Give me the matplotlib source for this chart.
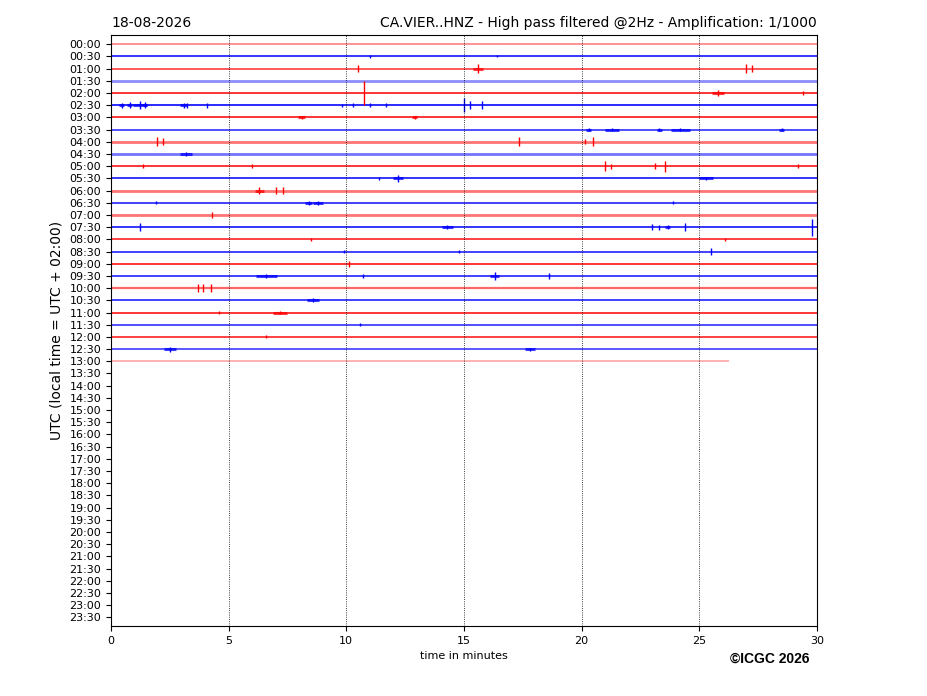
import matplotlib
matplotlib.use("Agg")
import matplotlib.pyplot as plt

### Helicorder layout: one row every 30 minutes
row_labels = ["%02d:%02d" % (h, m) for h in range(24) for m in (0, 30)]
n_rows_with_data = 27
last_row_end = 26.2          # minutes recorded in the 13:00 row

### Row display (visual density of the noisy trace)
row_alpha = [0.5, 0.85, 0.7, 0.45, 0.85, 0.9, 0.85, 0.75, 0.55, 0.55,
             0.85, 0.85, 0.55, 0.8, 0.55, 0.85, 0.8, 0.8, 0.85, 0.8,
             0.6, 0.8, 0.85, 0.75, 0.8, 0.7, 0.3]
row_width = [1.2, 1.3, 1.3, 2.0, 1.3, 1.3, 1.3, 1.3, 2.0, 2.0,
             1.3, 1.3, 2.0, 1.3, 2.0, 1.3, 1.3, 1.3, 1.3, 1.3,
             1.6, 1.3, 1.3, 1.3, 1.3, 1.3, 1.4]

### Events: row index, minute, half amplitude (rows), duration (minutes)
event_row = [1, 1,
             2, 2, 2, 2,
             4, 4, 4,
             5, 5, 5, 5, 5, 5, 5, 5, 5, 5, 5, 5, 5, 5,
             6, 6,
             7, 7, 7, 7, 7,
             8, 8, 8, 8, 8,
             9,
             10, 10, 10, 10, 10, 10, 10,
             11, 11, 11,
             12, 12, 12,
             13, 13, 13, 13,
             14,
             15, 15, 15, 15, 15, 15, 15,
             16, 16,
             17, 17, 17,
             18,
             19, 19, 19, 19,
             20, 20, 20,
             21,
             22, 22,
             23,
             24,
             25, 25]
event_min = [11.0, 16.4,
             10.5, 15.6, 27.0, 27.25,
             10.75, 25.8, 29.4,
             0.45, 0.8, 1.25, 1.45, 3.1, 3.25, 4.1, 9.8, 10.3, 11.0, 11.7, 15.0, 15.25, 15.75,
             8.1, 12.9,
             20.3, 21.3, 23.3, 24.2, 28.5,
             1.95, 2.2, 17.35, 20.15, 20.5,
             3.2,
             1.35, 6.0, 21.0, 21.25, 23.1, 23.55, 29.2,
             11.4, 12.2, 25.3,
             6.3, 7.0, 7.3,
             1.9, 8.4, 8.8, 23.9,
             4.3,
             1.25, 14.3, 23.0, 23.3, 23.65, 24.4, 29.8,
             8.5, 26.1,
             9.9, 14.8, 25.5,
             10.1,
             6.6, 10.7, 16.3, 18.6,
             3.7, 3.9, 4.25,
             8.6,
             4.6, 7.2,
             10.6,
             6.6,
             2.5, 17.8]
event_amp = [0.15, 0.08,
             0.3, 0.4, 0.35, 0.3,
             0.95, 0.25, 0.15,
             0.2, 0.25, 0.3, 0.25, 0.2, 0.2, 0.2, 0.12, 0.15, 0.15, 0.15, 0.6, 0.3, 0.3,
             0.12, 0.12,
             0.12, 0.12, 0.12, 0.12, 0.12,
             0.35, 0.3, 0.35, 0.2, 0.35,
             0.15,
             0.15, 0.15, 0.4, 0.2, 0.25, 0.45, 0.15,
             0.15, 0.3, 0.15,
             0.3, 0.25, 0.25,
             0.12, 0.15, 0.15, 0.12,
             0.25,
             0.3, 0.15, 0.25, 0.2, 0.15, 0.3, 0.7,
             0.12, 0.12,
             0.15, 0.12, 0.25,
             0.25,
             0.15, 0.15, 0.3, 0.25,
             0.3, 0.3, 0.3,
             0.15,
             0.12, 0.15,
             0.12,
             0.12,
             0.2, 0.12]
event_dur = [0.0, 0.0,
             0.0, 0.4, 0.0, 0.0,
             0.0, 0.5, 0.0,
             0.2, 0.2, 0.6, 0.2, 0.3, 0.0, 0.0, 0.0, 0.0, 0.0, 0.0, 0.0, 0.0, 0.0,
             0.3, 0.2,
             0.2, 0.6, 0.2, 0.8, 0.2,
             0.0, 0.0, 0.0, 0.0, 0.0,
             0.5,
             0.0, 0.0, 0.0, 0.0, 0.0, 0.0, 0.0,
             0.0, 0.4, 0.6,
             0.4, 0.0, 0.0,
             0.0, 0.3, 0.4, 0.0,
             0.0,
             0.0, 0.5, 0.0, 0.0, 0.2, 0.0, 0.0,
             0.0, 0.0,
             0.0, 0.0, 0.0,
             0.0,
             0.9, 0.0, 0.4, 0.0,
             0.0, 0.0, 0.0,
             0.5,
             0.0, 0.6,
             0.0,
             0.0,
             0.5, 0.4]

fig = plt.figure(figsize=(9.27, 6.96), dpi=100)
ax = fig.add_axes([0.1197, 0.1006, 0.7616, 0.8491])

### Baseline of every recorded row
for i in range(n_rows_with_data):
    color = 'r' if i % 2 == 0 else 'b'
    end = last_row_end if i == n_rows_with_data - 1 else 30.0
    ax.plot([0, end], [i, i], color=color, lw=row_width[i], alpha=row_alpha[i])

### Seismic events
for r, m, a, d in zip(event_row, event_min, event_amp, event_dur):
    color = 'r' if r % 2 == 0 else 'b'
    ax.vlines(m, r - a, r + a, color=color, lw=1.0)
    if d > 0:
        ax.hlines(r, m - d / 2, m + d / 2, color=color, lw=2.2, alpha=0.75)

### Vertical dotted grid
for x in range(5, 30, 5):
    ax.axvline(x, color='k', ls=':', lw=0.6)

ax.set_xlim(0, 30)
ax.set_ylim(47.7, -0.75)
ax.set_xticks(range(0, 31, 5))
ax.set_yticks(range(len(row_labels)))
ax.set_yticklabels(row_labels)
ax.tick_params(labelsize=8)
ax.set_xlabel("time in minutes", fontsize=8)
ax.set_ylabel("UTC (local time = UTC + 02:00)", fontsize=10)
ax.set_title("18-08-2026", loc='left', fontsize=10)
ax.set_title("CA.VIER..HNZ - High pass filtered @2Hz - Amplification: 1/1000",
             loc='right', fontsize=10)

fig.text(0.8306, 0.0485, "\u00a9ICGC 2026", ha='center', fontsize=10,
         weight='bold', family=['Liberation Sans', 'DejaVu Sans'])

fig.savefig("out.png", dpi=100)
